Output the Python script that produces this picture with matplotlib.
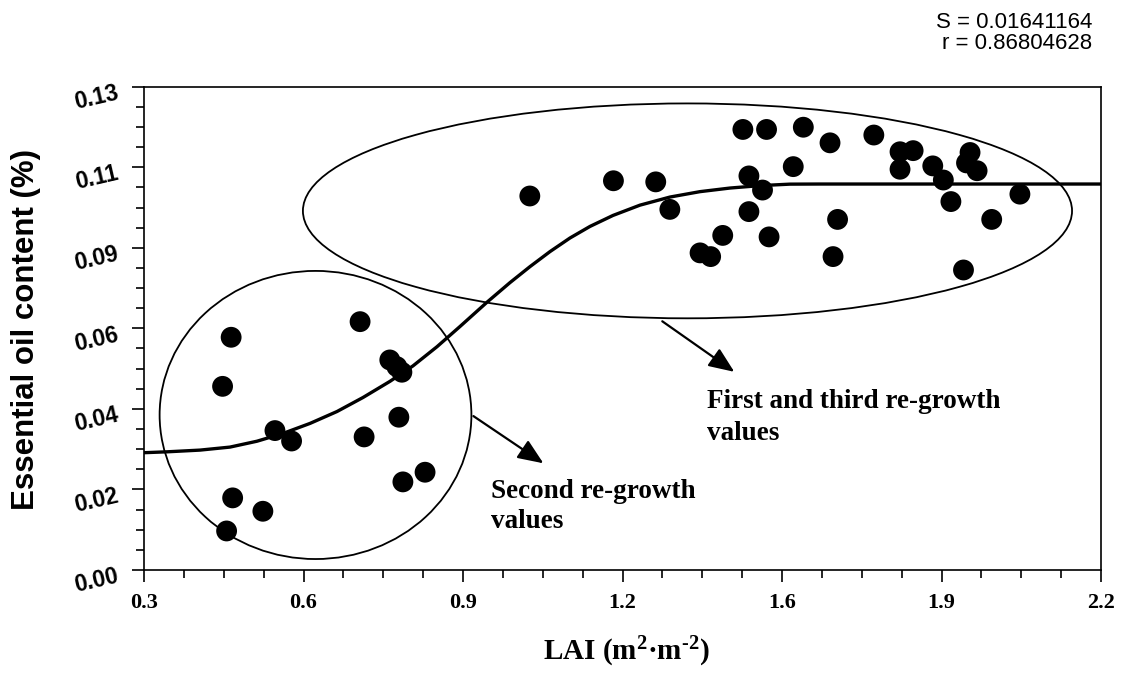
import numpy as np
import matplotlib
matplotlib.use("Agg")
import matplotlib.pyplot as plt
from matplotlib.patches import Ellipse
from matplotlib.ticker import AutoMinorLocator
from matplotlib.transforms import ScaledTranslation

plt.rcParams['mathtext.fontset'] = 'custom'
plt.rcParams['mathtext.rm'] = 'Liberation Serif:bold'
plt.rcParams['mathtext.it'] = 'Liberation Serif:bold'
plt.rcParams['mathtext.bf'] = 'Liberation Serif:bold'

# ---- data ----
lai_second = [0.473, 0.456, 0.729, 0.788, 0.802, 0.812, 0.560, 0.593, 0.737,
              0.806, 0.476, 0.536, 0.464, 0.814, 0.858]
oil_second = [0.0626, 0.0494, 0.0668, 0.0565, 0.0547, 0.0532, 0.0375, 0.0347,
              0.0358, 0.0411, 0.0194, 0.0158, 0.0105, 0.0237, 0.0263]

lai_first_third = [1.066, 1.232, 1.316, 1.344, 1.489, 1.536, 1.501, 1.528, 1.501,
                   1.449, 1.541, 1.404, 1.425, 1.589, 1.609, 1.662, 1.749, 1.801,
                   1.827, 1.801, 1.866, 1.887, 1.940, 1.933, 1.954, 2.039, 1.902,
                   1.983, 1.677, 1.668, 1.927]
oil_first_third = [0.1006, 0.1047, 0.1044, 0.0970, 0.1185, 0.1185, 0.1060, 0.1022,
                   0.0964, 0.0900, 0.0896, 0.0853, 0.0843, 0.1085, 0.1191, 0.1149,
                   0.1170, 0.1125, 0.1128, 0.1078, 0.1087, 0.1049, 0.1123, 0.1095,
                   0.1074, 0.1011, 0.0991, 0.0943, 0.0943, 0.0843, 0.0807]

# fitted sigmoid curve
fit_lai = [0.3000, 0.3457, 0.4112, 0.4707, 0.5243, 0.5760, 0.6296, 0.6832, 0.7348,
           0.7884, 0.8340, 0.8817, 0.9273, 0.9810, 1.0266, 1.0663, 1.1060, 1.1457,
           1.1855, 1.2311, 1.2847, 1.3443, 1.4038, 1.4634, 1.5229, 1.5825, 1.6421,
           2.2000]
fit_oil = [0.03155, 0.03179, 0.03225, 0.03306, 0.03464, 0.03674, 0.03943, 0.04263,
           0.04640, 0.05075, 0.05490, 0.06006, 0.06549, 0.07203, 0.07730, 0.08160,
           0.08564, 0.08930, 0.09242, 0.09537, 0.09814, 0.10032, 0.10177, 0.10274,
           0.10339, 0.10379, 0.10382, 0.10382]

x_ticks = np.linspace(0.3, 2.2, 7)
x_tick_labels = ["0.3", "0.6", "0.9", "1.2", "1.6", "1.9", "2.2"]
y_ticks = np.linspace(0.0, 0.13, 7)
y_tick_labels = ["0.00", "0.02", "0.04", "0.06", "0.09", "0.11", "0.13"]

stats_text = ["S = 0.01641164", "r = 0.86804628"]

# ---- figure ----
fig = plt.figure(figsize=(11.22, 6.75), dpi=100)
ax = fig.add_axes([144/1122, 1-570/675, 957/1122, 483.3/675])

ax.plot(fit_lai, fit_oil, color='black', lw=2.4, solid_joinstyle='round',
        solid_capstyle='butt', zorder=2)
ax.scatter(lai_second + lai_first_third, oil_second + oil_first_third,
           s=225, color='black', edgecolors='none', zorder=3)

ax.add_patch(Ellipse((1.379, 0.0966), 1.527, 0.0578, fill=False, lw=1.3,
                     edgecolor='black', zorder=1))
ax.add_patch(Ellipse((0.6405, 0.0417), 0.619, 0.0775, fill=False, lw=1.3,
                     edgecolor='black', zorder=1))

arrow_style = dict(arrowstyle='-|>,head_length=0.65,head_width=0.27', lw=1.6,
                   color='black', mutation_scale=24, shrinkA=0, shrinkB=0)
ax.annotate('', xy=(1.093, 0.0287), xytext=(0.954, 0.0414), arrowprops=arrow_style)
ax.annotate('', xy=(1.472, 0.0533), xytext=(1.329, 0.0669), arrowprops=arrow_style)

serif_bold = dict(family='Liberation Serif', weight='bold', fontsize=19.5)
ax.text(0.3626, (570-498.3)/483.3, "Second re-growth", transform=ax.transAxes,
        ha='left', va='baseline', **serif_bold)
ax.text(0.3626, (570-528.3)/483.3, "values", transform=ax.transAxes,
        ha='left', va='baseline', **serif_bold)
ax.text(0.588, (570-408)/483.3, "First and third re-growth", transform=ax.transAxes,
        ha='left', va='baseline', **serif_bold)
ax.text(0.588, (570-439.6)/483.3, "values", transform=ax.transAxes,
        ha='left', va='baseline', **serif_bold)

ax.set_xlim(0.3, 2.2)
ax.set_ylim(0.0, 0.13)
ax.set_xticks(x_ticks)
ax.set_xticklabels(x_tick_labels, family='Liberation Serif', weight='bold', fontsize=16)
ax.set_yticks(y_ticks)
ax.set_yticklabels(y_tick_labels, family='Liberation Sans', weight='bold', fontsize=16.5,
                   rotation=13, rotation_mode='anchor', ha='right', va='center')
ax.xaxis.set_minor_locator(AutoMinorLocator(4))
ax.yaxis.set_minor_locator(AutoMinorLocator(4))
ax.tick_params(which='major', direction='out', length=8.8, width=1.2, color='black')
ax.tick_params(which='minor', direction='out', length=5.8, width=1.2, color='black')
ax.tick_params(axis='x', which='major', pad=8)
ax.tick_params(axis='y', which='major', pad=10)
for lab in ax.get_yticklabels():
    lab.set_transform(lab.get_transform() + ScaledTranslation(0, -0.06, fig.dpi_scale_trans))

for sp in ax.spines.values():
    sp.set_linewidth(1.2)

fig.text(626.5/1122, 1-660/675, 'LAI (m$^{2}$\u00b7m$^{\u2010 2}$)'.replace('\u2010 ', '\u2010'),
         family='Liberation Serif', weight='bold', fontsize=21, ha='center', va='baseline')
fig.text(26/1122, 1-329/675, "Essential oil content (%)", family='Liberation Sans',
         weight='bold', fontsize=22.5, rotation=90, ha='center', va='center')

fig.text(1092/1122, 1-28.3/675, stats_text[0], family='Liberation Sans', fontsize=16,
         ha='right', va='baseline')
fig.text(1092/1122, 1-49.3/675, stats_text[1], family='Liberation Sans', fontsize=16,
         ha='right', va='baseline')

fig.savefig("out.png", dpi=100)
